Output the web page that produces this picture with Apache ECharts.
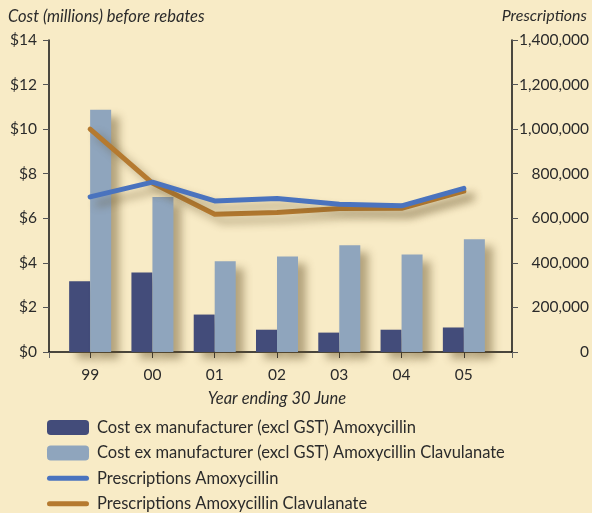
<!DOCTYPE html>
<html>
<head>
<meta charset="utf-8">
<script src="https://cdn.jsdelivr.net/npm/echarts@6/dist/echarts.min.js"></script>
<style>
  html, body { margin: 0; padding: 0; background: #f8ebc6; }
  #chart { width: 592px; height: 513px; }
</style>
</head>
<body>
<div id="chart"></div>
<script>
// Data
const years = ['99', '00', '01', '02', '03', '04', '05']
const costAmox = [3.17, 3.57, 1.68, 1.0, 0.87, 1.0, 1.1]
const costAmoxClav = [10.87, 6.96, 4.07, 4.29, 4.79, 4.38, 5.06]
const rxAmox = [696000, 762000, 678000, 689000, 663000, 656000, 734000]
const rxAmoxClav = [1000000, 758000, 618000, 626000, 644000, 645000, 722000]

const names = [
  'Cost ex manufacturer (excl GST) Amoxycillin',
  'Cost ex manufacturer (excl GST) Amoxycillin Clavulanate',
  'Prescriptions Amoxycillin',
  'Prescriptions Amoxycillin Clavulanate'
]

const font = 'Lato'
const ink = '#2b2b2b'
const shadow = 'rgba(95, 75, 35, 0.45)'
// thick rounded stroke used as legend icon for the two line series
const lineIcon = 'path://M2.5,0 L39.5,0 A2.5,2.5 0 0 1 39.5,5 L2.5,5 A2.5,2.5 0 0 1 2.5,0 Z'

const chart = echarts.init(document.getElementById('chart'))

const option = {
  backgroundColor: '#f8ebc6',
  animation: false,
  textStyle: { fontFamily: font, color: ink },
  title: [
    {
      text: 'Cost (millions) before rebates',
      left: 3, top: 3,
      textStyle: { fontFamily: font, fontStyle: 'italic', fontWeight: 'normal', fontSize: 16.5, color: ink }
    },
    {
      text: 'Prescriptions',
      right: 0, top: 3,
      textStyle: { fontFamily: font, fontStyle: 'italic', fontWeight: 'normal', fontSize: 16, color: ink }
    }
  ],
  // grid 0 holds the frame (axes), grid 1 holds the data
  grid: [
    { left: 49, right: 80, top: 40, bottom: 161 },
    { left: 59, right: 97, top: 40, bottom: 161 }
  ],
  xAxis: [
    {
      gridIndex: 0, type: 'value', min: 0, max: 1, interval: 1,
      axisLine: { show: true, lineStyle: { color: '#111', width: 1.5 } },
      axisTick: { show: true, length: 6, lineStyle: { color: '#666' } },
      axisLabel: { show: false },
      splitLine: { show: false }
    },
    {
      gridIndex: 1, type: 'category', data: years,
      axisLine: { show: false },
      axisTick: { show: true, alignWithLabel: true, length: 6, lineStyle: { color: '#333' } },
      axisLabel: { fontFamily: font, fontSize: 15.5, color: ink, margin: 15 },
      name: 'Year ending 30 June',
      nameLocation: 'middle',
      nameGap: 38,
      nameTextStyle: { fontFamily: font, fontStyle: 'italic', fontSize: 16.5, color: ink }
    }
  ],
  yAxis: [
    {
      gridIndex: 0, type: 'value', min: 0, max: 14, interval: 2, position: 'left',
      axisLine: { show: true, lineStyle: { color: '#111', width: 1.5 } },
      axisTick: { show: true, length: 6, lineStyle: { color: '#555' } },
      axisLabel: { fontFamily: font, fontSize: 15.5, color: ink, margin: 12, formatter: v => '$' + v },
      splitLine: { show: false }
    },
    {
      gridIndex: 0, type: 'value', min: 0, max: 1400000, interval: 200000, position: 'right',
      axisLine: { show: true, lineStyle: { color: '#111', width: 1.5 } },
      axisTick: { show: true, length: 6, lineStyle: { color: '#555' } },
      axisLabel: {
        fontFamily: font, fontSize: 15.5, color: ink, margin: 77, align: 'right',
        formatter: v => v.toLocaleString('en-US')
      },
      splitLine: { show: false }
    },
    { gridIndex: 1, type: 'value', min: 0, max: 14, show: false },
    { gridIndex: 1, type: 'value', min: 0, max: 1400000, show: false }
  ],
  legend: {
    orient: 'vertical',
    left: 47, top: 419, height: 140, padding: 0,
    itemWidth: 42, itemHeight: 15, itemGap: 8.4,
    data: [
      { name: names[0] },
      { name: names[1] },
      { name: names[2], icon: lineIcon },
      { name: names[3], icon: lineIcon }
    ],
    textStyle: { fontFamily: font, fontSize: 16.5, lineHeight: 15, color: ink, padding: [0, 0, 0, 3] },
    itemStyle: { shadowBlur: 0, shadowOffsetX: 0, shadowOffsetY: 0, shadowColor: 'transparent' },
    lineStyle: { width: 0, shadowBlur: 0, shadowOffsetX: 0, shadowOffsetY: 0, shadowColor: 'transparent' }
  },
  series: [
    {
      name: names[0], type: 'bar', xAxisIndex: 1, yAxisIndex: 2,
      data: costAmox, barWidth: 21, barGap: '0%',
      itemStyle: { color: '#434c7a', shadowColor: shadow, shadowBlur: 8, shadowOffsetX: 8, shadowOffsetY: 7 }
    },
    {
      name: names[1], type: 'bar', xAxisIndex: 1, yAxisIndex: 2,
      data: costAmoxClav, barWidth: 21, barGap: '0%',
      itemStyle: { color: '#8fa5bd', shadowColor: shadow, shadowBlur: 8, shadowOffsetX: 8, shadowOffsetY: 7 }
    },
    {
      name: names[2], type: 'line', xAxisIndex: 1, yAxisIndex: 3,
      data: rxAmox, symbol: 'none', z: 4,
      itemStyle: { color: '#4a73be' },
      lineStyle: { color: '#4a73be', width: 5, cap: 'round', join: 'round',
        shadowColor: shadow, shadowBlur: 8, shadowOffsetX: 8, shadowOffsetY: 7 }
    },
    {
      name: names[3], type: 'line', xAxisIndex: 1, yAxisIndex: 3,
      data: rxAmoxClav, symbol: 'none', z: 3,
      itemStyle: { color: '#b57a30' },
      lineStyle: { color: '#b57a30', width: 5, cap: 'round', join: 'round',
        shadowColor: shadow, shadowBlur: 8, shadowOffsetX: 8, shadowOffsetY: 7 }
    }
  ]
}

chart.setOption(option)
</script>
</body>
</html>
